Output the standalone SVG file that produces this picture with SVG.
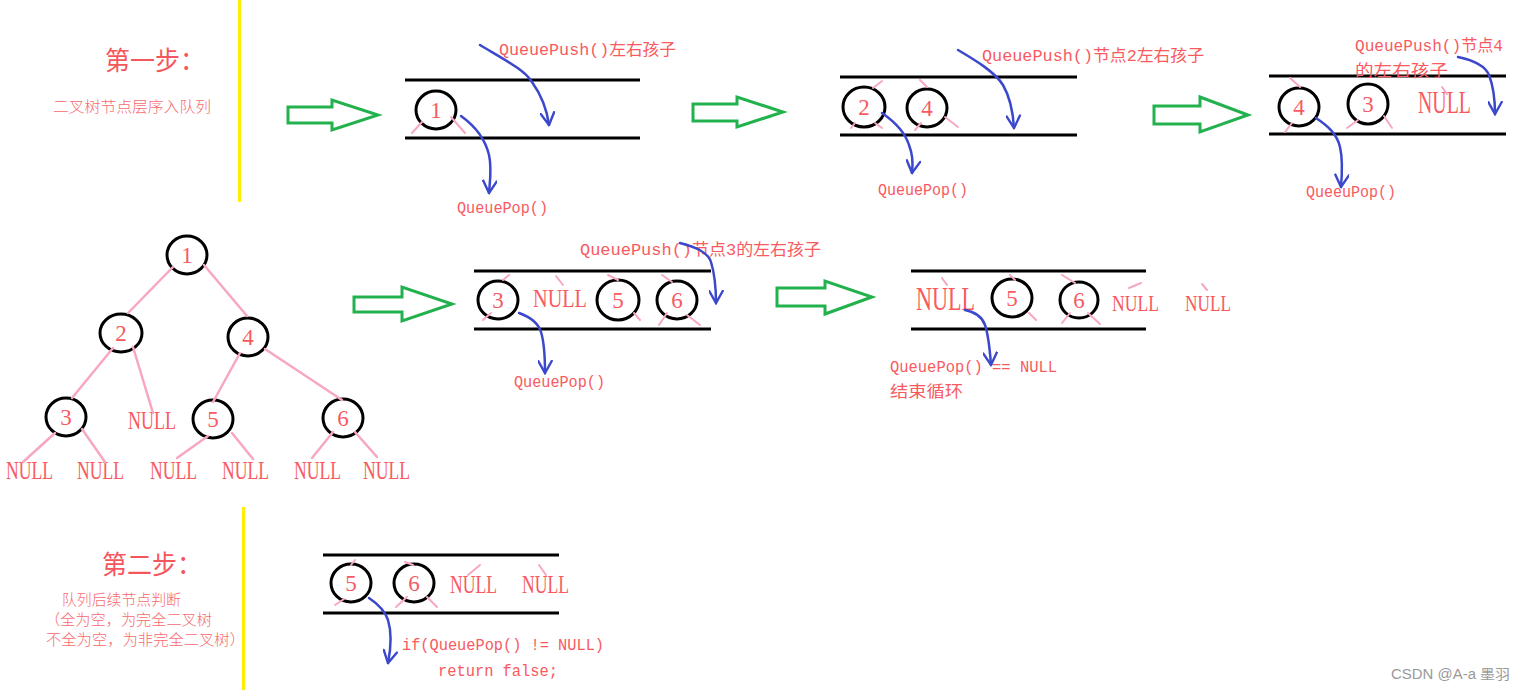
<svg xmlns="http://www.w3.org/2000/svg" width="1525" height="690" viewBox="0 0 1525 690">
<style>
.bg{fill:#fff}
.yl{stroke:#ffee00;stroke-width:3}
.q{stroke:#000;stroke-width:3}
.c{fill:none;stroke:#000;stroke-width:3}
.g{fill:none;stroke:#22b14c;stroke-width:3;stroke-linejoin:miter}
.e{stroke:#f7a8c0;stroke-width:2.5;stroke-linecap:round;fill:none}
.t{stroke:#f7a8c0;stroke-width:2;stroke-linecap:round}
.b{fill:none;stroke:#3c48cc;stroke-width:2.5;stroke-linecap:round;marker-end:url(#vh)}
.d{font-family:"Liberation Serif","DejaVu Serif",serif;font-size:23px;fill:#f85a60;text-anchor:middle}
.n{font-family:"Liberation Serif","DejaVu Serif",serif;fill:#f85a60}
.m{font-family:"Liberation Mono","Noto Sans CJK SC",monospace;font-size:16px;fill:#f85a60}
.h{font-family:"Noto Sans CJK SC","Noto Sans CJK JP",sans-serif;font-size:26px;fill:#f5565c}
.s{font-family:"Noto Sans CJK SC","Noto Sans CJK JP",sans-serif;font-size:15px;fill:#f86a70;font-weight:300}
.w{font-family:"Liberation Sans","Noto Sans CJK SC",sans-serif;font-size:14px;fill:#999}
</style>
<defs>
<marker id="vh" viewBox="0 0 10 10" refX="9" refY="5" markerWidth="15" markerHeight="15" markerUnits="userSpaceOnUse" orient="auto">
<path d="M1,0.5 L9,5 L1,9.5" fill="none" stroke="#3c48cc" stroke-width="1.6" stroke-linecap="round"/>
</marker>
</defs>
<rect class="bg" x="0" y="0" width="1525" height="690"/>

<g id="dividers">
<line class="yl" x1="239.5" y1="0" x2="239.5" y2="202"/>
<line class="yl" x1="243.5" y1="507" x2="243.5" y2="690"/>
</g>

<g id="titles">
<text class="h" x="105" y="70" textLength="100" lengthAdjust="spacingAndGlyphs">第一步：</text>
<text class="s" x="53" y="112" textLength="158" lengthAdjust="spacingAndGlyphs">二叉树节点层序入队列</text>
<text class="h" x="102" y="574" textLength="100" lengthAdjust="spacingAndGlyphs">第二步：</text>
<text class="s" x="62" y="605" textLength="119" lengthAdjust="spacingAndGlyphs">队列后续节点判断</text>
<text class="s" x="45" y="625" textLength="167" lengthAdjust="spacingAndGlyphs">（全为空，为完全二叉树</text>
<text class="s" x="46" y="645" textLength="199" lengthAdjust="spacingAndGlyphs">不全为空，为非完全二叉树）</text>
</g>

<g id="green-arrows">
<path class="g" d="M288,107 H332 V100 L378,115 L332,130 V123 H288 Z"/>
<path class="g" d="M693,104 H737 V97 L783,112 L737,127 V121 H693 Z"/>
<path class="g" d="M1154,106 H1200 V97 L1248,115 L1200,132 V124 H1154 Z"/>
<path class="g" d="M354,297 H402 V287 L452,304 L402,321 V312 H354 Z"/>
<path class="g" d="M777,288 H825 V281 L872,297 L825,314 V306 H777 Z"/>
</g>

<g id="queue1">
<line class="q" x1="405" y1="80" x2="640" y2="80"/>
<line class="q" x1="405" y1="138" x2="640" y2="138"/>
<ellipse class="c" cx="436" cy="110" rx="20" ry="19"/>
<text class="d" x="436" y="118">1</text>
</g>
<g id="queue2">
<line class="q" x1="840" y1="77" x2="1077" y2="77"/>
<line class="q" x1="840" y1="135" x2="1077" y2="135"/>
<ellipse class="c" cx="864" cy="107" rx="21" ry="20"/>
<text class="d" x="864" y="115">2</text>
<ellipse class="c" cx="927" cy="108" rx="20" ry="19"/>
<text class="d" x="927" y="116">4</text>
</g>
<g id="queue3">
<line class="q" x1="1269" y1="76" x2="1506" y2="76"/>
<line class="q" x1="1269" y1="134" x2="1506" y2="134"/>
<ellipse class="c" cx="1299" cy="107" rx="20" ry="19"/>
<text class="d" x="1299" y="115">4</text>
<ellipse class="c" cx="1368" cy="104" rx="20" ry="20"/>
<text class="d" x="1368" y="112">3</text>
<text class="n" x="1418" y="113" font-size="31" textLength="53" lengthAdjust="spacingAndGlyphs">NULL</text>
</g>

<g id="tree">
<ellipse class="c" cx="187" cy="255" rx="20" ry="19"/>
<text class="d" x="187" y="263">1</text>
<ellipse class="c" cx="121" cy="333" rx="21" ry="19"/>
<text class="d" x="121" y="341">2</text>
<ellipse class="c" cx="248" cy="337" rx="20" ry="19"/>
<text class="d" x="248" y="345">4</text>
<ellipse class="c" cx="66" cy="417" rx="20" ry="19"/>
<text class="d" x="66" y="425">3</text>
<ellipse class="c" cx="213" cy="419" rx="20" ry="19"/>
<text class="d" x="213" y="427">5</text>
<ellipse class="c" cx="343" cy="418" rx="20" ry="19"/>
<text class="d" x="343" y="426">6</text>
<text class="n" x="128" y="429" font-size="26" textLength="48" lengthAdjust="spacingAndGlyphs">NULL</text>
<text class="n" x="6" y="479" font-size="26" textLength="47" lengthAdjust="spacingAndGlyphs">NULL</text>
<text class="n" x="77" y="479" font-size="26" textLength="47" lengthAdjust="spacingAndGlyphs">NULL</text>
<text class="n" x="150" y="479" font-size="26" textLength="47" lengthAdjust="spacingAndGlyphs">NULL</text>
<text class="n" x="222" y="479" font-size="26" textLength="47" lengthAdjust="spacingAndGlyphs">NULL</text>
<text class="n" x="294" y="479" font-size="26" textLength="47" lengthAdjust="spacingAndGlyphs">NULL</text>
<text class="n" x="363" y="479" font-size="26" textLength="47" lengthAdjust="spacingAndGlyphs">NULL</text>
</g>

<g id="queue4">
<line class="q" x1="474" y1="271" x2="711" y2="271"/>
<line class="q" x1="474" y1="329" x2="711" y2="329"/>
<ellipse class="c" cx="498" cy="300" rx="20" ry="19"/>
<text class="d" x="498" y="308">3</text>
<text class="n" x="533" y="307" font-size="26" textLength="54" lengthAdjust="spacingAndGlyphs">NULL</text>
<ellipse class="c" cx="618" cy="300" rx="21" ry="20"/>
<text class="d" x="618" y="308">5</text>
<ellipse class="c" cx="677" cy="300" rx="20" ry="19"/>
<text class="d" x="677" y="308">6</text>
</g>
<g id="queue5">
<line class="q" x1="911" y1="271" x2="1146" y2="271"/>
<line class="q" x1="911" y1="329" x2="1146" y2="329"/>
<text class="n" x="916" y="310" font-size="33" textLength="59" lengthAdjust="spacingAndGlyphs">NULL</text>
<ellipse class="c" cx="1012" cy="298" rx="20" ry="19"/>
<text class="d" x="1012" y="306">5</text>
<ellipse class="c" cx="1079" cy="300" rx="19" ry="18"/>
<text class="d" x="1079" y="308">6</text>
<text class="n" x="1112" y="311" font-size="24" textLength="47" lengthAdjust="spacingAndGlyphs">NULL</text>
<text class="n" x="1185" y="311" font-size="24" textLength="46" lengthAdjust="spacingAndGlyphs">NULL</text>
</g>
<g id="queue6">
<line class="q" x1="323" y1="555" x2="559" y2="555"/>
<line class="q" x1="323" y1="613" x2="559" y2="613"/>
<ellipse class="c" cx="351" cy="583" rx="20" ry="19"/>
<text class="d" x="351" y="591">5</text>
<ellipse class="c" cx="414" cy="583" rx="20" ry="19"/>
<text class="d" x="414" y="591">6</text>
<text class="n" x="450" y="593" font-size="26" textLength="47" lengthAdjust="spacingAndGlyphs">NULL</text>
<text class="n" x="522" y="593" font-size="26" textLength="47" lengthAdjust="spacingAndGlyphs">NULL</text>
</g>

<g id="labels">
<text class="m" x="499" y="55" textLength="177" lengthAdjust="spacingAndGlyphs">QueuePush()左右孩子</text>
<text class="m" x="457" y="213" textLength="91" lengthAdjust="spacingAndGlyphs">QueuePop()</text>
<text class="m" x="982" y="61" textLength="222" lengthAdjust="spacingAndGlyphs">QueuePush()节点2左右孩子</text>
<text class="m" x="878" y="195" textLength="90" lengthAdjust="spacingAndGlyphs">QueuePop()</text>
<text class="m" x="1355" y="51" textLength="148" lengthAdjust="spacingAndGlyphs">QueuePush()节点4</text>
<text class="m" x="1355" y="76" textLength="93" lengthAdjust="spacingAndGlyphs">的左右孩子</text>
<text class="m" x="1306" y="197" textLength="90" lengthAdjust="spacingAndGlyphs">QueeuPop()</text>
<text class="m" x="580" y="255" textLength="241" lengthAdjust="spacingAndGlyphs">QueuePush()节点3的左右孩子</text>
<text class="m" x="514" y="387" textLength="91" lengthAdjust="spacingAndGlyphs">QueuePop()</text>
<text class="m" x="890" y="372" textLength="167" lengthAdjust="spacingAndGlyphs">QueuePop() == NULL</text>
<text class="m" x="890" y="397" textLength="73" lengthAdjust="spacingAndGlyphs">结束循环</text>
<text class="m" x="402" y="650" textLength="202" lengthAdjust="spacingAndGlyphs">if(QueuePop() != NULL)</text>
<text class="m" x="438" y="676" textLength="120" lengthAdjust="spacingAndGlyphs">return false;</text>
<text class="w" x="1391" y="679" textLength="119" lengthAdjust="spacingAndGlyphs">CSDN @A-a 墨羽</text>
</g>

<g id="connectors">
<path class="e" d="M173,267 L128,313"/>
<path class="e" d="M204,265 L247,316"/>
<path class="e" d="M113,348 L72,398"/>
<path class="e" d="M133,347 L153,413"/>
<path class="e" d="M240,353 L213,402"/>
<path class="e" d="M265,349 L342,400"/>
<path class="e" d="M55,433 L23,462"/>
<path class="e" d="M82,429 L105,462"/>
<path class="e" d="M208,436 L177,458"/>
<path class="e" d="M232,433 L253,459"/>
<path class="e" d="M333,432 L312,458"/>
<path class="e" d="M355,432 L377,457"/>

<line class="t" x1="412" y1="133" x2="422" y2="122"/>
<line class="t" x1="451" y1="117" x2="465" y2="133"/>
<line class="t" x1="873" y1="88" x2="882" y2="81"/>
<line class="t" x1="851" y1="128" x2="855" y2="123"/>
<line class="t" x1="875" y1="123" x2="882" y2="128"/>
<line class="t" x1="920" y1="80" x2="927" y2="87"/>
<line class="t" x1="915" y1="130" x2="921" y2="123"/>
<line class="t" x1="945" y1="117" x2="958" y2="127"/>
<line class="t" x1="1290" y1="78" x2="1300" y2="87"/>
<line class="t" x1="1285" y1="132" x2="1292" y2="123"/>
<line class="t" x1="1347" y1="128" x2="1358" y2="120"/>
<line class="t" x1="1384" y1="116" x2="1392" y2="128"/>
<line class="t" x1="1442" y1="87" x2="1447" y2="94"/>
<line class="t" x1="503" y1="280" x2="509" y2="275"/>
<line class="t" x1="483" y1="320" x2="491" y2="313"/>
<line class="t" x1="556" y1="276" x2="563" y2="285"/>
<line class="t" x1="608" y1="275" x2="618" y2="280"/>
<line class="t" x1="634" y1="313" x2="640" y2="320"/>
<line class="t" x1="662" y1="275" x2="672" y2="282"/>
<line class="t" x1="659" y1="325" x2="667" y2="313"/>
<line class="t" x1="687" y1="315" x2="700" y2="325"/>
<line class="t" x1="942" y1="278" x2="947" y2="285"/>
<line class="t" x1="1010" y1="275" x2="1015" y2="280"/>
<line class="t" x1="1029" y1="313" x2="1036" y2="320"/>
<line class="t" x1="1062" y1="275" x2="1075" y2="283"/>
<line class="t" x1="1062" y1="323" x2="1070" y2="313"/>
<line class="t" x1="1088" y1="313" x2="1100" y2="324"/>
<line class="t" x1="1129" y1="288" x2="1141" y2="283"/>
<line class="t" x1="1202" y1="284" x2="1207" y2="290"/>
<line class="t" x1="351" y1="565" x2="355" y2="560"/>
<line class="t" x1="335" y1="605" x2="344" y2="599"/>
<line class="t" x1="405" y1="562" x2="413" y2="565"/>
<line class="t" x1="396" y1="607" x2="407" y2="597"/>
<line class="t" x1="427" y1="597" x2="437" y2="607"/>
<line class="t" x1="468" y1="575" x2="480" y2="565"/>
<line class="t" x1="539" y1="565" x2="546" y2="575"/>

<path class="b" d="M480,45 C505,60 525,70 532,82 C542,96 547,110 549,125"/>
<path class="b" d="M461,116 C475,126 485,138 489,155 C492,168 490,180 489,193"/>
<path class="b" d="M958,50 C975,60 995,72 1003,85 C1010,97 1013,112 1014,128"/>
<path class="b" d="M882,113 C895,122 905,132 909,145 C913,155 913,165 912,173"/>
<path class="b" d="M1458,57 C1472,60 1485,65 1489,75 C1494,88 1495,100 1495,114"/>
<path class="b" d="M1316,118 C1328,126 1337,134 1340,147 C1343,160 1342,175 1341,187"/>
<path class="b" d="M680,243 C695,247 708,252 711,262 C715,275 716,290 716,303"/>
<path class="b" d="M519,313 C530,317 538,322 541,332 C545,345 545,360 545,373"/>
<path class="b" d="M965,310 C975,312 982,316 985,325 C989,337 990,352 991,365"/>
<path class="b" d="M369,598 C378,604 385,611 388,620 C392,633 391,648 388,663"/>
</g>
</svg>
